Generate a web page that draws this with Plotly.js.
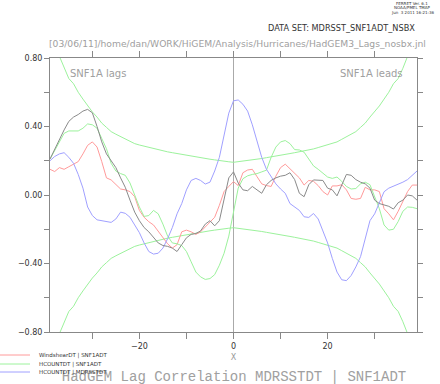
<!DOCTYPE html>
<html>
<head>
<meta charset="utf-8">
<script src="https://cdn.plot.ly/plotly-3.0.1.min.js"></script>
<style>
html,body{margin:0;padding:0;background:#fff;}
#chart{width:440px;height:384px;}
</style>
</head>
<body>
<div id="chart"></div>
<script>
const lags = [-39,-38,-37,-36,-35,-34,-33,-32,-31,-30,-29,-28,-27,-26,-25,-24,-23,-22,-21,-20,-19,-18,-17,-16,-15,-14,-13,-12,-11,-10,-9,-8,-7,-6,-5,-4,-3,-2,-1,0,1,2,3,4,5,6,7,8,9,10,11,12,13,14,15,16,17,18,19,20,21,22,23,24,25,26,27,28,29,30,31,32,33,34,35,36,37,38,39];

// MDRSSTDT | SNF1ADT (gray)
const mdrSnf = [0.21,0.27,0.32,0.38,0.43,0.455,0.47,0.49,0.50,0.48,0.40,0.31,0.24,0.20,0.16,0.10,0.045,-0.03,-0.10,-0.15,-0.19,-0.215,-0.25,-0.28,-0.295,-0.30,-0.31,-0.33,-0.29,-0.25,-0.23,-0.225,-0.21,-0.17,-0.15,-0.18,-0.15,-0.02,0.10,0.135,0.07,0.03,0.025,0.05,0.03,0.01,0.06,0.085,0.10,0.11,0.115,0.13,0.09,0.01,-0.01,0.06,0.088,0.088,0.085,0.04,0.03,-0.005,0.06,0.12,0.115,0.09,0.075,0.065,0.04,-0.03,-0.05,-0.058,-0.066,-0.082,-0.045,-0.03,0.0,-0.005,-0.03];

// WindshearDT | SNF1ADT (red)
const windSnf = [0.15,0.137,0.16,0.15,0.165,0.178,0.195,0.24,0.29,0.31,0.28,0.195,0.10,0.088,0.06,0.035,0.03,0.02,-0.01,-0.09,-0.13,-0.156,-0.175,-0.21,-0.245,-0.285,-0.31,-0.29,-0.215,-0.205,-0.215,-0.23,-0.215,-0.185,-0.16,-0.13,-0.06,0.02,0.05,0.078,0.055,0.13,0.146,0.15,0.107,0.065,0.055,0.05,0.11,0.16,0.18,0.155,0.13,0.10,0.058,0.085,0.08,0.055,0.02,0.0,0.053,0.053,0.06,0.03,-0.02,-0.025,-0.02,0.045,0.03,0.03,0.02,-0.08,-0.11,-0.145,-0.095,-0.04,0.02,0.058,0.058];

// HCOUNTDT | SNF1ADT (green)
const hcountSnf = [0.21,0.26,0.31,0.36,0.374,0.374,0.374,0.39,0.415,0.41,0.39,0.33,0.27,0.185,0.14,0.125,0.115,0.07,0.0,-0.07,-0.125,-0.12,-0.09,-0.11,-0.17,-0.24,-0.28,-0.285,-0.295,-0.33,-0.39,-0.45,-0.478,-0.493,-0.488,-0.465,-0.41,-0.34,-0.24,-0.107,0.04,0.095,0.112,0.12,0.125,0.135,0.145,0.22,0.28,0.31,0.318,0.30,0.265,0.263,0.25,0.21,0.17,0.15,0.13,0.105,0.097,0.105,0.08,0.05,0.035,0.038,0.065,0.075,0.06,-0.005,-0.08,-0.175,-0.205,-0.2,-0.155,-0.095,-0.07,-0.072,-0.08];

// HCOUNTDT | MDRSSTDT (blue)
const hcountMdr = [0.20,0.225,0.24,0.247,0.22,0.185,0.12,0.04,-0.07,-0.12,-0.145,-0.15,-0.152,-0.16,-0.14,-0.10,-0.107,-0.13,-0.175,-0.22,-0.28,-0.33,-0.345,-0.34,-0.31,-0.255,-0.19,-0.11,-0.05,0.03,0.085,0.097,0.085,0.064,0.075,0.14,0.22,0.35,0.478,0.55,0.555,0.53,0.49,0.41,0.31,0.22,0.15,0.105,0.065,0.035,0.01,-0.05,-0.068,-0.09,-0.127,-0.131,-0.108,-0.14,-0.21,-0.28,-0.37,-0.45,-0.495,-0.50,-0.47,-0.42,-0.36,-0.26,-0.15,-0.11,-0.045,0.019,0.04,0.052,0.06,0.075,0.09,0.115,0.14];

// significance curves
const sigUpper = [1.3,1.0,0.81,0.74,0.68,0.65,0.60,0.56,0.52,0.485,0.455,0.42,0.395,0.37,0.355,0.34,0.325,0.31,0.30,0.292,0.285,0.277,0.269,0.263,0.257,0.252,0.247,0.242,0.236,0.23,0.226,0.222,0.218,0.213,0.209,0.205,0.20,0.197,0.194,0.191,0.194,0.197,0.20,0.205,0.209,0.213,0.218,0.222,0.226,0.23,0.236,0.242,0.247,0.252,0.257,0.263,0.269,0.277,0.285,0.292,0.30,0.31,0.325,0.34,0.355,0.37,0.395,0.42,0.455,0.485,0.52,0.56,0.60,0.65,0.68,0.74,0.81,1.0,1.3];
const sigLower = [-1.3,-1.0,-0.81,-0.74,-0.68,-0.65,-0.60,-0.56,-0.52,-0.485,-0.455,-0.42,-0.395,-0.37,-0.355,-0.34,-0.325,-0.31,-0.30,-0.292,-0.285,-0.277,-0.269,-0.263,-0.257,-0.252,-0.247,-0.242,-0.236,-0.23,-0.226,-0.222,-0.218,-0.213,-0.209,-0.205,-0.20,-0.197,-0.194,-0.191,-0.194,-0.197,-0.20,-0.205,-0.209,-0.213,-0.218,-0.222,-0.226,-0.23,-0.236,-0.242,-0.247,-0.252,-0.257,-0.263,-0.269,-0.277,-0.285,-0.292,-0.30,-0.31,-0.325,-0.34,-0.355,-0.37,-0.395,-0.42,-0.455,-0.485,-0.52,-0.56,-0.60,-0.65,-0.68,-0.74,-0.81,-1.0,-1.3];

const legendNames = ["WindshearDT | SNF1ADT","HCOUNTDT | SNF1ADT","HCOUNTDT | MDRSSTDT"];
const titleText = "HadGEM Lag Correlation MDRSSTDT | SNF1ADT";
const dataSetText = "DATA SET: MDRSST_SNF1ADT_NSBX";
const pathText = "[03/06/11]/home/dan/WORK/HiGEM/Analysis/Hurricanes/HadGEM3_Lags_nosbx.jnl";
const ferretText = ["FERRET Ver. 6.1","NOAA/PMEL TMAP","Jun  3 2011 16:21:36"];

const RED = "#ff9a9a", GREEN = "#9cf29c", BLUE = "#a0a0ff", GRAY = "#8a8a8a";

// pixel -> paper helpers (plot area: x 50..417, y 58..332)
const L = 50, R = 417, T = 58, B = 332;
const px = p => (p - L) / (R - L);
const py = p => (B - p) / (B - T);

function line(y, c) { return {type:"scatter", mode:"lines", x:lags, y:y, line:{color:c, width:1}, hoverinfo:"skip", showlegend:false, cliponaxis:true}; }

const traces = [
  line(sigUpper, GREEN),
  line(sigLower, GREEN),
  line(windSnf, RED),
  line(hcountSnf, GREEN),
  line(hcountMdr, BLUE),
  line(mdrSnf, GRAY)
];

const legendColors = [RED, GREEN, BLUE];
const legendY = [355, 364, 372];
const shapes = [];
const annotations = [];
legendNames.forEach((n, i) => {
  shapes.push({type:"line", xref:"paper", yref:"paper", x0:px(0), x1:px(30), y0:py(legendY[i]), y1:py(legendY[i]), line:{color:legendColors[i], width:1}});
  annotations.push({xref:"paper", yref:"paper", x:px(37), y:py(legendY[i]), xanchor:"left", yanchor:"middle", showarrow:false, text:n, font:{family:"DejaVu Sans", size:5.5, color:"#333"}});
});

annotations.push({xref:"paper", yref:"paper", x:px(417), y:py(28), xanchor:"right", yanchor:"middle", showarrow:false, text:dataSetText, font:{family:"DejaVu Sans", size:8.2, color:"#333"}});
annotations.push({xref:"paper", yref:"paper", x:px(428), y:py(44), xanchor:"right", yanchor:"middle", showarrow:false, text:pathText, font:{family:"DejaVu Sans", size:9.2, color:"#a0a0a0"}});
annotations.push({xref:"paper", yref:"paper", x:px(68), y:py(73), xanchor:"left", yanchor:"middle", showarrow:false, text:"SNF1A lags", font:{family:"DejaVu Sans", size:10, color:"#a0a0a0"}});
annotations.push({xref:"paper", yref:"paper", x:px(405), y:py(73), xanchor:"right", yanchor:"middle", showarrow:false, text:"SNF1A leads", font:{family:"DejaVu Sans", size:10, color:"#a0a0a0"}});
ferretText.forEach((t, i) => {
  annotations.push({xref:"paper", yref:"paper", x:px(412), y:py(3.5 + i*4.5), xanchor:"center", yanchor:"middle", showarrow:false, text:t, font:{family:"DejaVu Sans", size:4, color:"#333"}});
});

const layout = {
  width:440, height:384,
  margin:{l:L, r:440-R, t:T, b:384-B, pad:0},
  paper_bgcolor:"#fff", plot_bgcolor:"#fff",
  showlegend:false,
  font:{family:"DejaVu Sans", size:8, color:"#333"},
  title:{text:titleText, x:234/440, xanchor:"center", y:1-376/384, yanchor:"middle", yref:"container",
         font:{family:"Liberation Mono", size:14, color:"#a0a0a0"}},
  xaxis:{
    range:[-39,39], tick0:0, dtick:20, ticks:"outside", ticklen:6, tickcolor:"#888", tickwidth:1,
    minor:{dtick:10, tick0:0, ticks:"outside", ticklen:6, tickcolor:"#888"},
    showline:true, linecolor:"#888", linewidth:1, mirror:"ticks",
    showgrid:false, zeroline:true, zerolinecolor:"#aaa", zerolinewidth:1,
    tickfont:{family:"DejaVu Sans", size:8, color:"#333"},
    title:{text:"X", font:{family:"DejaVu Sans", size:8, color:"#999"}, standoff:4}
  },
  yaxis:{
    range:[-0.8,0.8], tick0:0, dtick:0.4, tickformat:".2f", ticks:"outside", ticklen:5, tickcolor:"#888", tickwidth:1,
    minor:{dtick:0.2, tick0:0, ticks:"outside", ticklen:5, tickcolor:"#888"},
    showline:true, linecolor:"#888", linewidth:1, mirror:"ticks",
    showgrid:false, zeroline:false,
    tickfont:{family:"DejaVu Sans", size:8, color:"#333"}
  },
  shapes:shapes,
  annotations:annotations
};

Plotly.newPlot("chart", traces, layout, {staticPlot:true, displayModeBar:false});
</script>
</body>
</html>
